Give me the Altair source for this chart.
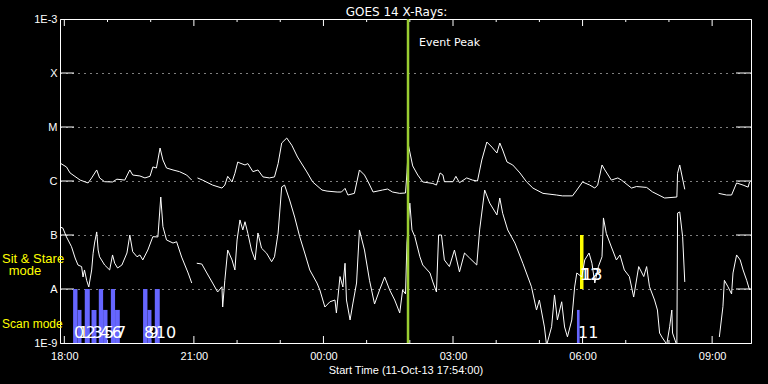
import altair as alt
import pandas as pd

# ---------------- data (time = minutes after start 11-Oct-13 17:54:00 UT) -------------
START_LABEL = "Start Time (11-Oct-13 17:54:00)"

# GOES 14 long channel (1-8 A), W/m^2 ; None marks a data gap
long_t = [0, 9, 14, 28, 39, 44, 51, 55, 62, 73, 79, 90, 97, 101, 111, 118, 125, 129, 134, 139,
          143, 148, 157, 166, 176, 183, None,
          191, 198, 212, 225, 229, 233, 239, 243, 247, 250, 257, 261, 268, 275, 282, 291, 298, 303,
          308, 315, 322, 330, 343, 351, 364, 371, 385, 391, 396, 400, 409, 416, 423, 428, 435, 448,
          455, 462, 472, 480, 482, 484, 490, 497, 504, 518, 523, 528, 532, 534, 546, 550, 555, 565,
          573, 580, 586, 593, 600, 607, 611, 615, 621, 629, 639, 648, 657, 671, 690, 698, 712, 718,
          726, 736, 743, 747, 753, 757, 766, 775, 780, 794, 801, 815, 823, 840, 857, 858, 861, 868, None,
          915, 926, 933, 940, 949, 956, 958]
long_flux = [2.15e-6, 1.82e-6, 1.41e-6, 1.04e-6, 9.2e-7, 1.14e-6, 1.6e-6, 1.14e-6, 9.7e-7, 9.6e-7,
             1.08e-6, 1.04e-6, 1.6e-6, 1.29e-6, 1.24e-6, 1.14e-6, 1.22e-6, 1.82e-6, 1.74e-6, 4.08e-6,
             2.45e-6, 1.74e-6, 1.6e-6, 1.49e-6, 1.29e-6, 1.04e-6, None,
             1.14e-6, 1.04e-6, 8.4e-7, 7.4e-7, 8.4e-7, 1.22e-6, 9.6e-7, 1.39e-6, 2.25e-6, 2.15e-6,
             1.98e-6, 2.1e-6, 1.49e-6, 1.6e-6, 1.19e-6, 1.14e-6, 1.19e-6, 2.1e-6,
             5.05e-6, 6.25e-6, 4.6e-6, 2.78e-6, 1.47e-6, 9.6e-7, 6.8e-7, 6.5e-7, 6.25e-7, 6.25e-7,
             7.3e-7, 5.5e-7, 5.9e-7, 1.6e-6, 1.29e-6, 9.7e-7, 6.25e-7, 6.8e-7,
             7.1e-7, 6.25e-7, 5.9e-7, 6.0e-7, 1.41e-6, 4.64e-6, 1.9e-6, 1.29e-6, 9.6e-7, 9.0e-7,
             8.4e-7, 1.41e-6, 1.29e-6, 9.7e-7, 9.7e-7, 1.22e-6, 9.3e-7, 1.14e-6,
             1.04e-6, 1.0e-6, 2.45e-6, 5.27e-6, 4.25e-6, 3.3e-6, 5.05e-6, 3.75e-6, 2.25e-6, 1.98e-6,
             1.41e-6, 9.7e-7, 7.4e-7, 5.9e-7, 5.5e-7, 5.3e-7, 5.3e-7, 6.8e-7,
             9.6e-7, 8.4e-7, 7.4e-7, 8.4e-7, 1.98e-6, 1.6e-6, 1.04e-6, 1.14e-6, 1.04e-6, 7.4e-7,
             7.9e-7, 7.6e-7, 6.3e-7, 4.84e-7, 5.05e-7, 1.39e-6, 1.98e-6, 7.0e-7, None,
             5.9e-7, 5.5e-7, 5.5e-7, 9.2e-7, 8.4e-7, 7.7e-7, 9.6e-7]

# GOES 14 short channel (0.5-4 A), W/m^2
short_t = [0, 4, 9, 16, 21, 25, 30, 32, 34, 37, 40, 44, 46, 48, 51, 53, 55, 62, 69, 73, 76, 80,
           86, 93, 97, 101, 107, 111, 115, 122, 129, 136, 140, 143, 148, 157, 162, 169, 178, 183, None,
           190, 197, 204, 212, 219, 225, 226, 229, 233, 239, 243, 246, 250, 254, 257, 261, 266, 271,
           275, 280, 287, 294, 298, 303, 308, 312, 319, 326, 333, 340, 347, 357, 361, 368, 375, 382,
           384, 389, 393, 396, 398, 403, 407, 412, 416, 423, 430, 437, 444, 451, 458, 465, 472, 476,
           480, 482, 486, 489, 493, 500, 504, 514, 518, 523, 526, 530, 534, 541, 548, 555, 562, 569,
           579, 583, 590, 597, 607, 611, 615, 622, 632, 643, 655, 662, 666, 673, 676, 683, 687, 691,
           697, 701, 705, 711, 715, 718, 725, 729, 735, 739, 743, 748, 753, 755, 759, 766, 773, 778,
           784, 791, 797, 804, 811, 815, 819, 826, 830, 833, 837, 843, 847, 850, 851, 857, 858, 861,
           865, 868, None,
           916, 921, 923, 928, 933, 935, 940, 945, 949, 954, 958]
short_flux = [1.41e-7, 1.34e-7, 9.2e-8, 6.06e-8, 3.75e-8, 2.78e-8, 2.6e-8, 1.67e-8, 2.25e-8, 1.45e-8,
              1.09e-8, 2.25e-8, 4.6e-8, 7.1e-8, 1.14e-7, 5.27e-8, 3.95e-8, 2.78e-8, 2.25e-8, 4.27e-8,
              3.0e-8, 2.45e-8, 2.78e-8, 4.64e-8, 1.0e-7, 4.9e-8, 3.95e-8, 4.27e-8, 3.45e-8, 5.27e-8,
              9.3e-8, 9.2e-8, 5.05e-7, 1.43e-7, 8.1e-8, 7.1e-8, 7.5e-8, 3.9e-8, 1.98e-8, 1.29e-8, None,
              3.0e-8, 2.9e-8, 1.98e-8, 1.29e-8, 8.8e-9, 1.1e-8, 4.64e-9, 1.45e-8, 5.27e-8, 3.45e-8,
              2.25e-8, 8.1e-8, 1.9e-7, 1.24e-7, 1.76e-7, 1.07e-7, 5.27e-8, 3.45e-8,
              1.09e-7, 5.7e-8, 4.6e-8, 3.2e-8, 3.95e-8, 1.09e-7, 7.76e-7, 8.4e-7, 4.45e-7, 2.15e-7,
              9.3e-8, 4.64e-8, 2.25e-8, 1.29e-8, 9.6e-9, 4.64e-9, 5.8e-9, 6.25e-9,
              3.6e-9, 1.7e-8, 1.09e-8, 3.0e-8, 6.25e-9, 2.67e-9, 5.5e-9, 1.29e-8, 1.24e-7, 5.27e-8,
              1.45e-8, 5.27e-9, 9.6e-9, 1.67e-8, 9.6e-9, 6.25e-9, 3.6e-9, 9.6e-9,
              8.1e-9, 7.1e-8, 3.9e-7, 1.24e-7, 9.3e-8, 3.95e-8, 2.78e-8, 1.98e-8, 1.35e-8, 8.8e-9,
              1.0e-7, 1.0e-7, 3.45e-8, 2.6e-8, 5.27e-8, 2.07e-8, 4.64e-8, 3.75e-8,
              2.78e-8, 1.24e-7, 6.8e-7, 3.9e-7, 2.35e-7, 4.84e-7, 2.52e-7, 1.24e-7, 7.1e-8, 3.0e-8,
              1.1e-8, 4.08e-9, 6.25e-9, 1.98e-9, 9.0e-10, 2.0e-9, 7.76e-9, 2.67e-9,
              5.8e-9, 1.98e-9, 1.3e-9, 2.67e-9, 1.09e-8, 1.98e-8, 1.67e-8, 3.45e-8, 4.64e-8, 3.0e-8,
              1.29e-8, 2.6e-8, 3.95e-8, 2.07e-7, 1.07e-7, 6.0e-8, 3.45e-8, 4.27e-8,
              2.25e-8, 1.7e-8, 7.1e-9, 2.6e-8, 1.7e-8, 2.6e-8, 1.1e-8, 6.25e-9, 4.08e-9, 1.53e-9,
              1.24e-9, 9.5e-10, 2.0e-9, 4.08e-9, 1.53e-9, 9.0e-10, 2.55e-7, 2.67e-7,
              9.3e-8, 1.35e-8, None,
              1.29e-9, 4.7e-9, 1.45e-8, 1.1e-8, 8.1e-9, 1.98e-8, 4.27e-8, 3.45e-8, 2.25e-8, 1.45e-8,
              9.6e-9]

# IRIS-like observations: scan mode (blue) and sit & stare (yellow)
scan_id = ["0", "1", "2", "3", "4", "5", "6", "7", "8", "9", "10", "11"]
scan_start = [18.2, 24.3, 34.4, 43.8, 53.9, 59.9, 70.6, 76.5, 115.4, 121.5, 131.7, 718.2]
scan_end = [24.3, 29.9, 41.4, 50.7, 59.9, 66.0, 76.5, 83.1, 121.5, 127.1, 138.6, 721.9]
scan_top = [1e-8, 4.1e-9, 1e-8, 4.1e-9, 1e-8, 4.1e-9, 1e-8, 4.1e-9, 1e-8, 4.1e-9, 1e-8, 4.1e-9]

ss_id = ["12", "13"]
ss_start = [722.4, 725.4]
ss_end = [727.0, 727.0]
ss_low = [1e-8, 1e-8]
ss_high = [1e-7, 1e-7]

event_t = [483.5]
event_label = ["Event Peak"]

x_tick_min = [6, 186, 366, 546, 726, 906]
x_tick_lab = ["18:00", "21:00", "00:00", "03:00", "06:00", "09:00"]
y_levels = [1e-9, 1e-8, 1e-7, 1e-6, 1e-5, 1e-4, 1e-3]
y_exps = [-9, -8, -7, -6, -5, -4, -3]
y_labels = ["1E-9", "A", "B", "C", "M", "X", "1E-3"]

# ---------------- tables -------------
def to_segments(ts, fs, name):
    rows, seg = [], 0
    for t, f in zip(ts, fs):
        if t is None:
            seg += 1
            continue
        rows.append({"t": t, "flux": f, "seg": f"{name}{seg}"})
    return pd.DataFrame(rows)

curves = pd.concat([to_segments(long_t, long_flux, "long"),
                    to_segments(short_t, short_flux, "short")], ignore_index=True)
scan_df = pd.DataFrame({"id": scan_id, "start": scan_start, "end": scan_end, "top": scan_top})
ss_df = pd.DataFrame({"id": ss_id, "start": ss_start, "end": ss_end, "low": ss_low, "high": ss_high})
event_df = pd.DataFrame({"t": event_t, "label": event_label})
inner_levels = pd.DataFrame({"level": y_levels[1:-1]})
major_df = pd.DataFrame({"t": x_tick_min})
minor_df = pd.DataFrame({"t": [6 + 60 * k for k in range(16) if (6 + 60 * k) not in x_tick_min]})

# ---------------- scales / axes -------------
W, H = 691, 324
FONT_AX = "Liberation Sans"
FONT_TX = "DejaVu Sans"

x_expr = "".join(f"datum.value == {v} ? '{l}' : " for v, l in zip(x_tick_min, x_tick_lab)) + "''"
y_expr = "".join(f"round(log(datum.value) / LN10) == {e} ? '{l}' : " for e, l in zip(y_exps, y_labels)) + "''"

x_scale = alt.Scale(domain=[0, 960], nice=False, zero=False)
y_scale = alt.Scale(type="log", domain=[1e-9, 1e-3], nice=False)
x_axis = alt.Axis(values=x_tick_min, labelExpr=x_expr, title=START_LABEL, grid=False, domain=False,
                  ticks=False, labelColor="white", titleColor="white", labelFont=FONT_AX,
                  titleFont=FONT_AX, labelFontSize=11, titleFontSize=11, titleFontWeight="normal",
                  labelPadding=7, titlePadding=3, labelFlush=False)
y_axis = alt.Axis(values=y_levels, labelExpr=y_expr, title=None, grid=True, gridDash=[1, 5],
                  gridColor="white", gridOpacity=1, gridWidth=1, domain=False, ticks=False,
                  labelColor="white", labelFont=FONT_AX, labelFontSize=11, labelPadding=3)


def xe(field):
    return alt.X(field, type="quantitative", scale=x_scale, axis=x_axis)


def ye(field):
    return alt.Y(field, type="quantitative", scale=y_scale, axis=y_axis)


# ---------------- layers -------------
left_ticks = alt.Chart(inner_levels).mark_rule(color="white").encode(
    y=ye("level"), x=alt.value(0), x2=alt.value(14))
right_ticks = alt.Chart(inner_levels).mark_rule(color="white").encode(
    y=ye("level"), x=alt.value(W - 15), x2=alt.value(W))
top_major = alt.Chart(major_df).mark_rule(color="white").encode(
    x=xe("t"), y=alt.value(0), y2=alt.value(7))
top_minor = alt.Chart(minor_df).mark_rule(color="white").encode(
    x=xe("t"), y=alt.value(0), y2=alt.value(3))
bot_major = alt.Chart(major_df).mark_rule(color="white").encode(
    x=xe("t"), y=alt.value(H), y2=alt.value(H - 7))
bot_minor = alt.Chart(minor_df).mark_rule(color="white").encode(
    x=xe("t"), y=alt.value(H), y2=alt.value(H - 3))

scan_bars = alt.Chart(scan_df).mark_rect(color="#6666ff").encode(
    x=xe("start"), x2="end", y=ye("top"), y2=alt.value(H))
ss_bars = alt.Chart(ss_df).mark_rect(color="#ffff00").encode(
    x=xe("start"), x2="end", y=ye("high"), y2="low")

lines = alt.Chart(curves).mark_line(color="white", strokeWidth=1, clip=True).encode(
    x=xe("t"), y=ye("flux"), detail="seg:N", order="t:Q")

event_rule = alt.Chart(event_df).mark_rule(color="#9acd32", strokeWidth=2.5).encode(x=xe("t"))
event_text = alt.Chart(event_df).mark_text(
    align="left", baseline="middle", dx=11, color="white", font=FONT_TX, fontSize=11).encode(
    x=xe("t"), y=alt.value(24), text="label:N")

scan_text = alt.Chart(scan_df).mark_text(
    align="left", baseline="middle", dx=1, color="white", font=FONT_TX, fontSize=16).encode(
    x=xe("start"), y=alt.value(314), text="id:N")
ss_text = alt.Chart(ss_df).mark_text(
    align="left", baseline="middle", dx=0, color="white", font=FONT_TX, fontSize=16).encode(
    x=xe("start"), y=alt.value(256), text="id:N")

one = pd.DataFrame({"k": [0]})
lab1 = alt.Chart(one).mark_text(text="Sit & Stare", color="yellow", font=FONT_AX, fontSize=13,
                                align="left", baseline="middle").encode(x=alt.value(-58), y=alt.value(240))
lab2 = alt.Chart(one).mark_text(text="mode", color="yellow", font=FONT_AX, fontSize=13,
                                align="center", baseline="middle").encode(x=alt.value(-35), y=alt.value(252))
lab3 = alt.Chart(one).mark_text(text="Scan mode", color="yellow", font=FONT_AX, fontSize=12,
                                align="left", baseline="middle").encode(x=alt.value(-58), y=alt.value(305))

chart = alt.layer(
    left_ticks, right_ticks, top_major, top_minor, bot_major, bot_minor,
    scan_bars, ss_bars, lines, event_rule, event_text, scan_text, ss_text, lab1, lab2, lab3
).properties(
    width=W, height=H,
    title=alt.TitleParams("GOES 14 X-Rays:", color="white", font=FONT_TX, fontSize=12,
                          fontWeight="normal", anchor="middle", dx=-9, dy=10, offset=4),
    padding={"left": 60, "top": 19, "right": 17, "bottom": 41},
    autosize=alt.AutoSizeParams(type="none"),
    background="black",
).configure_view(stroke="white", strokeWidth=1)

chart.save("out.html", embed_options={"renderer": "svg", "actions": False})
